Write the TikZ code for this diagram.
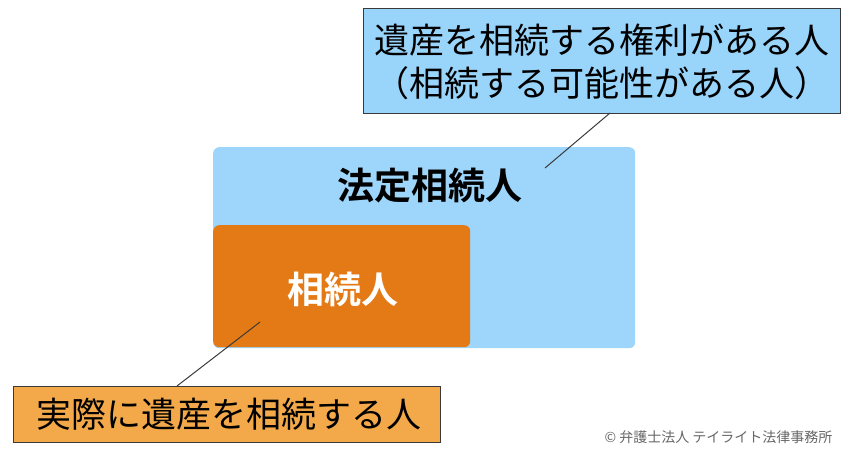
\documentclass[tikz,border=0pt]{standalone}
\usepackage{fontspec}
\setmainfont{Noto Sans CJK JP}
\newfontfamily\jpbold{Noto Sans CJK JP Bold}
\definecolor{lblue}{HTML}{9DD6FA}
\definecolor{cblue}{HTML}{99D4FA}
\definecolor{dorange}{HTML}{E47A15}
\definecolor{lorange}{HTML}{F3A94A}
\definecolor{bordergray}{HTML}{3A3A3A}
\begin{document}
\begin{tikzpicture}[x=1pt,y=-1pt,
  callout/.style={draw=bordergray, line width=1pt, inner sep=0pt, anchor=north west},
  leader/.style={draw=bordergray, line width=1pt}]
\useasboundingbox (0,0) rectangle (850,460);
% big blue box
\node[fill=lblue, rounded corners=6pt, minimum width=422pt, minimum height=201pt, anchor=north west, inner sep=0pt] (hotei) at (213,147) {};
\node[font=\jpbold\fontsize{37}{40}\selectfont] (hoteilbl) at (430,186) {法定相続人};
% orange box
\node[fill=dorange, rounded corners=6pt, minimum width=257pt, minimum height=122pt, anchor=north west, inner sep=0pt] (sozoku) at (213,225) {};
\node[font=\jpbold\fontsize{37}{40}\selectfont, text=white] (sozokulbl) at (343,289) {相続人};
% top callout
\node[callout, fill=cblue, minimum width=477pt, minimum height=105pt] (topbox) at (363,8) {};
\node[font=\fontsize{35}{43}\selectfont, align=left, anchor=west] (toptext) at (371,62) {遺産を相続する権利がある人\\（相続する可能性がある人）};
% bottom callout
\node[callout, fill=lorange, minimum width=427pt, minimum height=56pt] (botbox) at (13,386) {};
\node[font=\fontsize{35}{40}\selectfont] (bottext) at (229,414) {実際に遺産を相続する人};
% leaders
\coordinate (t1) at (610,113);
\coordinate (t2) at (545,168);
\draw[leader] (t1) -- (t2);
\coordinate (b1) at (260,322);
\coordinate (b2) at (177,386);
\draw[leader] (b1) -- (b2);
% copyright
\node[font=\fontsize{14}{16}\selectfont, text=black!60, anchor=east] (copy) at (836,437) {© 弁護士法人 テイライト法律事務所};
\end{tikzpicture}
\end{document}
